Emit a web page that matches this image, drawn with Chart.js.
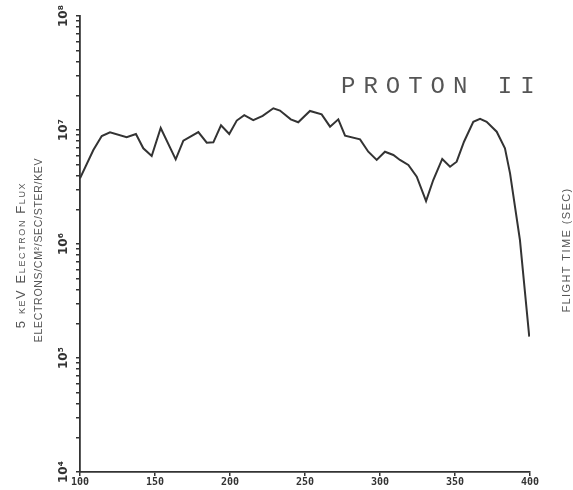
<!DOCTYPE html>
<html>
<head>
<meta charset="utf-8">
<script src="https://cdn.jsdelivr.net/npm/chart.js@4.4.1/dist/chart.umd.min.js"></script>
<style>
html,body{margin:0;padding:0;background:#fff;}
#wrap{width:573px;height:490px;position:relative;}
</style>
</head>
<body>
<div id="wrap"><canvas id="c" width="573" height="490"></canvas></div>
<script>
// Flight time (sec)
const times = [100, 108.9, 114.5, 120, 131.1, 137.3, 142.2, 147.8, 153.8, 163.8, 168.9, 178.9, 184.5, 188.9, 194, 199.5, 204.5, 209.5, 215.5, 221.8, 228.9, 233.3, 240.5, 245.5, 253.3, 261.1, 266.7, 272.2, 276.7, 286.7, 292.2, 297.8, 303.3, 308.9, 313.3, 318.9, 324.5, 330.7, 335.5, 341.5, 346.7, 351.1, 356, 362.2, 366.7, 371.1, 377.8, 383.3, 386.7, 393.3, 399.5];
// 5 keV electron flux (electrons/cm2/sec/ster/keV)
const flux = [3.77e6, 6.68e6, 8.86e6, 9.55e6, 8.63e6, 9.22e6, 6.91e6, 5.91e6, 1.04e7, 5.53e6, 8.05e6, 9.6e6, 7.74e6, 7.8e6, 1.10e7, 9.22e6, 1.21e7, 1.35e7, 1.22e7, 1.33e7, 1.55e7, 1.48e7, 1.24e7, 1.17e7, 1.47e7, 1.37e7, 1.07e7, 1.24e7, 8.91e6, 8.28e6, 6.45e6, 5.46e6, 6.45e6, 6.04e6, 5.46e6, 4.93e6, 3.89e6, 2.38e6, 3.64e6, 5.57e6, 4.76e6, 5.27e6, 7.89e6, 1.18e7, 1.25e7, 1.18e7, 9.66e6, 6.91e6, 4.17e6, 1.08e6, 1.54e5];
const xTicks = [100, 150, 200, 250, 300, 350, 400];
const yDecades = [4, 5, 6, 7, 8];
const supers = {'4':'⁴','5':'⁵','6':'⁶','7':'⁷','8':'⁸'};
const titleText = 'PROTON II';
const yTitle1 = '5 keV Electron Flux';
const yTitle2 = 'ELECTRONS/CM²/SEC/STER/KEV';
const rightTitle = 'FLIGHT TIME (SEC)';

const ink = '#333';
const textInk = '#555';

const textPlugin = {
  id: 'texts',
  afterDraw(chart) {
    const ctx = chart.ctx;
    ctx.save();
    ctx.fillStyle = textInk;
    // Title
    ctx.font = "24px 'Liberation Mono'";
    ctx.letterSpacing = '8px';
    ctx.textAlign = 'left';
    ctx.textBaseline = 'alphabetic';
    ctx.fillText(titleText, 341, 93);
    // Left title line 1 (small caps)
    ctx.save();
    ctx.translate(21, 255);
    ctx.rotate(-Math.PI / 2);
    ctx.font = "small-caps 13px 'Liberation Sans'";
    try { ctx.fontVariantCaps = 'small-caps'; } catch (e) {}
    ctx.letterSpacing = '1.6px';
    ctx.textAlign = 'center';
    ctx.textBaseline = 'middle';
    ctx.fillText(yTitle1, 0, 0);
    ctx.restore();
    // Left title line 2
    ctx.save();
    ctx.translate(39, 250);
    ctx.rotate(-Math.PI / 2);
    ctx.font = "10.5px 'Liberation Sans'";
    ctx.letterSpacing = '0.7px';
    ctx.textAlign = 'center';
    ctx.textBaseline = 'middle';
    ctx.fillText(yTitle2, 0, 0);
    ctx.restore();
    // Right title
    ctx.save();
    ctx.translate(567, 250);
    ctx.rotate(-Math.PI / 2);
    ctx.font = "11px 'Liberation Sans'";
    ctx.letterSpacing = '1.4px';
    ctx.textAlign = 'center';
    ctx.textBaseline = 'middle';
    ctx.fillText(rightTitle, 0, 0);
    ctx.restore();
    ctx.restore();
  }
};

new Chart(document.getElementById('c'), {
  type: 'line',
  data: {
    datasets: [{
      data: times.map((t, i) => ({x: t, y: flux[i]})),
      borderColor: ink,
      borderWidth: 2,
      pointRadius: 0,
      tension: 0,
      fill: false
    }]
  },
  options: {
    responsive: false,
    animation: false,
    layout: {padding: {left: 0, right: 43, top: 16, bottom: 0}},
    plugins: {legend: {display: false}, tooltip: {enabled: false}},
    scales: {
      x: {
        type: 'linear',
        min: 100, max: 400,
        afterBuildTicks: s => { s.ticks = xTicks.map(v => ({value: v})); },
        afterFit: s => { s.height = 18; },
        grid: {display: true, drawOnChartArea: false, drawTicks: true, tickLength: 4, color: ink, lineWidth: 1.5},
        border: {display: true, color: ink, width: 1.8},
        ticks: {color: ink, padding: 0, maxRotation: 0, autoSkip: false,
          font: {family: "'DejaVu Sans Mono'", size: 10, weight: 'bold'}}
      },
      y: {
        type: 'logarithmic',
        min: 1e4, max: 1e8,
        afterBuildTicks: s => {
          const t = [];
          for (let e = 4; e < 8; e++) for (let m = 1; m <= 9; m++) t.push({value: m * Math.pow(10, e)});
          t.push({value: 1e8});
          s.ticks = t;
        },
        afterFit: s => { s.width = 80; },
        grid: {display: true, drawOnChartArea: false, drawTicks: true, tickLength: 4, color: ink, lineWidth: 1.5},
        border: {display: true, color: ink, width: 1.8},
        ticks: {
          color: ink, padding: 1, autoSkip: false, minRotation: 90, maxRotation: 90,
          crossAlign: 'center',
          font: {family: "'DejaVu Sans'", size: 12, weight: 'bold'},
          callback: v => {
            const e = Math.round(Math.log10(v));
            if (Math.abs(v - Math.pow(10, e)) < 1e-6 * v && yDecades.includes(e)) return '10' + supers[String(e)];
            return '';
          }
        }
      }
    }
  },
  plugins: [textPlugin]
});
</script>
</body>
</html>
